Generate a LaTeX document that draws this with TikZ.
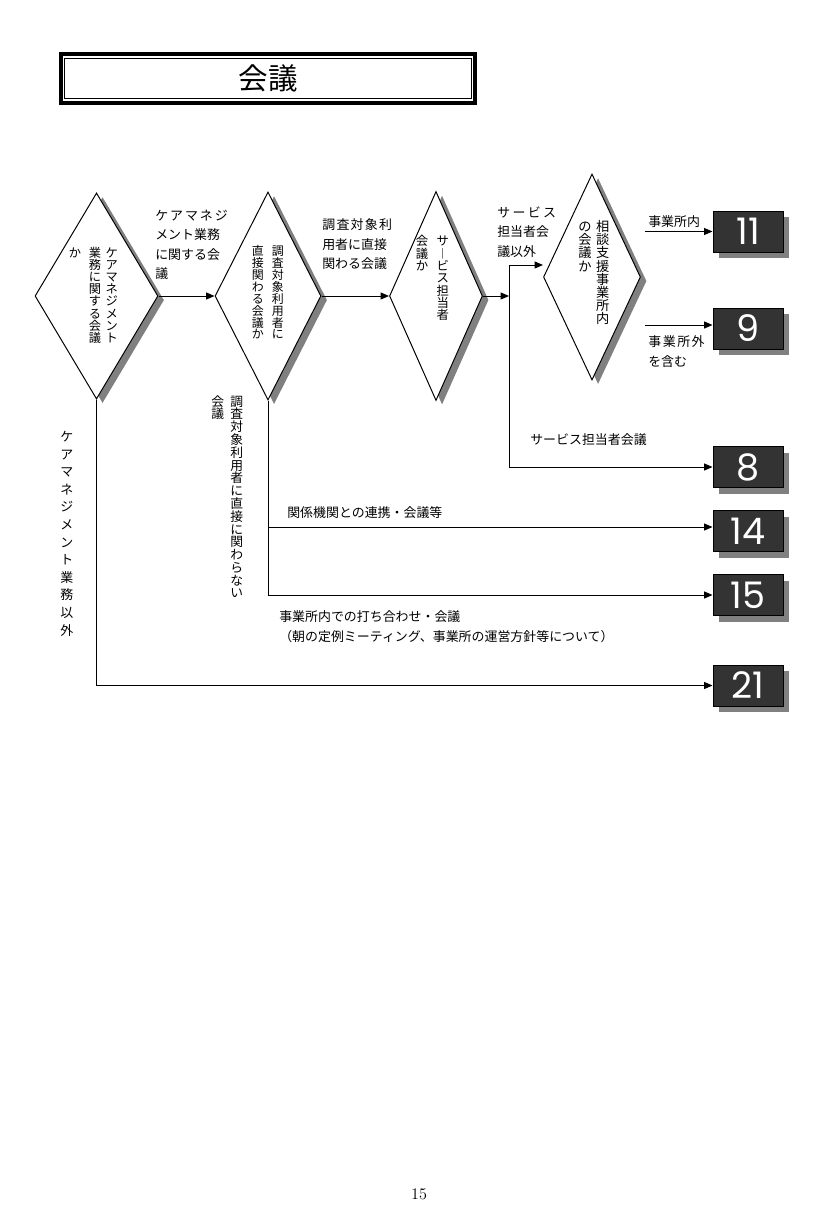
\documentclass[tikz,border=0pt]{standalone}
\usepackage{fontspec}
\newfontfamily\jp{Noto Sans CJK JP}
\newfontfamily\numfont{Poppins}
\usetikzlibrary{shapes.geometric}
\usetikzlibrary{shadows}
\usetikzlibrary{arrows.meta}
% one column of upright characters, top to bottom
\newcommand\tateend{}
\newcommand\tategap{0pt}
\newcommand\tate[2][0pt]{\vtop{\offinterlineskip\renewcommand\tategap{#1}\tateloop#2\tateend}}
\newcommand\tateloop[1]{\ifx#1\tateend\else\hbox to 1em{\hss\vrule height .88em depth .12em width 0pt\smash{#1}\hss}\kern\tategap\expandafter\tateloop\fi}
\tikzset{
	decision/.style={diamond, draw, fill=white, line width=0.7pt, inner sep=0pt, drop shadow={shadow xshift=4.3pt, shadow yshift=-2.9pt, fill=black!50, opacity=1}},
	outbox/.style={draw, fill=black!80, text=white, line width=0.7pt, inner sep=0pt, minimum width=1.75cm, minimum height=1.025cm, font=\numfont\fontsize{26pt}{26pt}\selectfont, drop shadow={shadow xshift=4.3pt, shadow yshift=-4.3pt, fill=black!50, opacity=1}},
	lbl/.style={anchor=north west, inner sep=0pt, align=left, font=\jp\fontsize{9.2pt}{13.9pt}\selectfont},
	vcol/.style={anchor=north east, inner sep=0pt, font=\jp\fontsize{#1}{#1}\selectfont},
	arr/.style={-{Triangle[length=6pt,width=5pt]}, line width=0.7pt},
}
\begin{document}
\begin{tikzpicture}[x=0.025cm, y=-0.025cm]
		\useasboundingbox (0,0) rectangle (840,1216);
		\node[draw, line width=2.9pt, minimum width=10.35cm, minimum height=1.22cm, font=\jp\fontsize{21pt}{21pt}\selectfont] (title) at (268,78.5) {会議};
		\draw[line width=0.7pt] ([shift={(4.3pt,-4.3pt)}]title.north west) rectangle ([shift={(-4.3pt,4.3pt)}]title.south east);
		\foreach \n/\x/\y/\w/\h in {1/96.5/296/3.075/5.15, 2/268/296/2.65/5.2, 3/436/296/2.325/5.225, 4/592/277/2.425/5.15}{
				\node[decision, minimum width=\w cm, minimum height=\h cm] (d\n) at (\x,\y) {};
			}
		\node[vcol=8.7pt] (t1) at (118.2,246) {\tate{か}\hskip5.4pt\tate{業務に関する会議}\hskip3.3pt\tate{ケアマネジメント}};
		\node[vcol=8.5pt] (t2) at (284,244.5) {\tate{直接関わる会議か}\hskip5.7pt\tate{調査対象利用者に}};
		\node[vcol=8.8pt] (t3) at (449.3,234.5) {\tate{会議か}\hskip6pt\tate{サ︱ビス担当者}};
		\node[vcol=9.4pt] (t4) at (609.7,219.5) {\tate{の会議か}\hskip3.3pt\tate{相談支援事業所内}};
		\foreach \n/\y in {11/231.5, 9/328.5, 8/467, 14/531, 15/595, 21/685.5}{
				\node[outbox] (b\n) at (748,\y) {\n};
			}
		\node[lbl] (l12) at (155,209.5) {\addfontfeature{LetterSpace=15}ケアマネジ\\メント業務\\に関する会\\議};
		\node[lbl] (l23) at (322,218.5) {\addfontfeature{LetterSpace=10}調査対象利\\用者に直接\\関わる会議};
		\node[lbl] (l34) at (497,206.5) {\addfontfeature{LetterSpace=18}サービス\\担当者会\\議以外};
		\node[lbl] (l11) at (648,215.5) {事業所内};
		\node[lbl] (l9) at (648,335.5) {\addfontfeature{LetterSpace=12}事業所外\\を含む};
		\node[lbl] (l8) at (530,433.5) {サービス担当者会議};
		\node[lbl] (l14) at (287,506.5) {関係機関との連携・会議等};
		\node[lbl] (l15) at (279,610.5) {事業所内での打ち合わせ・会議\\（朝の定例ミーティング、事業所の運営方針等について）};
		\node[vcol=9.1pt] (v2) at (243.4,394.5) {\tate{会議}\hskip4.4pt\tate{調査対象利用者に直接に関わらない}};
		\node[vcol=9.2pt] (v1) at (73.5,430) {\tate[3.3pt]{ケアマネジメント業務以外}};
		\coordinate (jt) at (509,265);
		\coordinate (s11) at (645,231.5);
		\coordinate (s9) at (645,325);
		\coordinate (c14) at (268,527);
		\draw[arr] (d1.east) -- (d2.west);
		\draw[arr] (d2.east) -- (d3.west);
		\draw[arr] (d3.east) -- (d3.east -| jt);
		\draw[arr] (jt) -- (jt -| d4.west);
		\draw[arr] (jt) |- (b8.west);
		\draw[arr] (s11) -- (b11.west);
		\draw[arr] (s9) -- (s9 -| b9.west);
		\draw[arr] (d2.south) |- (b15.west);
		\draw[arr] (c14) -- (c14 -| b14.west);
		\draw[arr] (d1.south) |- (b21.west);
		\node[font=\fontsize{11.5pt}{12pt}\selectfont] (pg) at (419,1194) {15};
	\end{tikzpicture}
\end{document}
